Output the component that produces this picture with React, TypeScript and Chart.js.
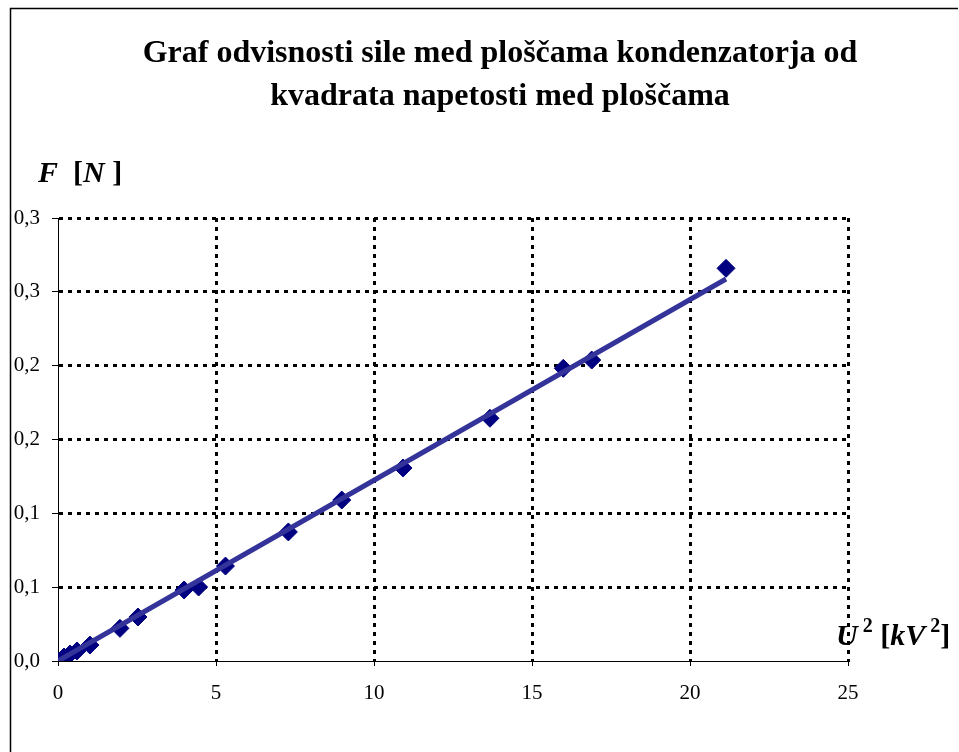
import React, { useEffect, useRef } from "react";
import { Chart, registerables } from "chart.js";

Chart.register(...registerables);

// ---- data ----
const uSquared = [0, 0.19, 0.38, 0.6, 1.01, 1.96, 2.53, 3.99, 4.45, 5.3, 7.29, 8.98, 10.92, 13.67, 15.99, 16.89, 21.14];
const force = [0, 0.0027, 0.0047, 0.0068, 0.0108, 0.0221, 0.0298, 0.0481, 0.0501, 0.0643, 0.0874, 0.109, 0.1307, 0.1644, 0.1982, 0.2038, 0.2659];
const trendX = [0, 21.14];
const trendY = [0, 0.2587];
const xTickLabels = ["0", "5", "10", "15", "20", "25"];
const yTickLabels = ["0,0", "0,1", "0,1", "0,2", "0,2", "0,3", "0,3"];
const titleLines = ["Graf odvisnosti sile med ploščama kondenzatorja od", "kvadrata napetosti med ploščama"];

const SERIF = '"Liberation Serif", "Times New Roman", serif';

type Run = { text: string; size: number; italic?: boolean; dy?: number };

function drawRuns(ctx: CanvasRenderingContext2D, x: number, y: number, runs: Run[]) {
  let cx = x;
  for (const r of runs) {
    ctx.font = `${r.italic ? "italic " : ""}bold ${r.size}px ${SERIF}`;
    ctx.fillText(r.text, cx, y + (r.dy || 0));
    cx += ctx.measureText(r.text).width;
  }
}

const decorPlugin = {
  id: "decor",
  afterDraw(chart: any) {
    const ctx: CanvasRenderingContext2D = chart.ctx;
    ctx.save();
    // frame
    ctx.strokeStyle = "#000";
    ctx.lineWidth = 1.5;
    ctx.beginPath();
    ctx.moveTo(10.5, 752);
    ctx.lineTo(10.5, 8.5);
    ctx.lineTo(958, 8.5);
    ctx.stroke();

    ctx.fillStyle = "#000";
    ctx.textBaseline = "alphabetic";
    // title
    ctx.textAlign = "center";
    ctx.font = `bold 32px ${SERIF}`;
    ctx.fillText(titleLines[0], 500, 62);
    ctx.fillText(titleLines[1], 500, 105);

    // axis titles
    ctx.textAlign = "left";
    drawRuns(ctx, 38, 182, [
      { text: "F", size: 30, italic: true },
      { text: "  [", size: 30 },
      { text: "N", size: 30, italic: true },
      { text: " ]", size: 30 },
    ]);
    drawRuns(ctx, 836, 645, [
      { text: "U", size: 30, italic: true },
      { text: " 2", size: 20, dy: -13 },
      { text: " [", size: 30 },
      { text: "kV", size: 30, italic: true },
      { text: " 2", size: 20, dy: -13 },
      { text: "]", size: 30 },
    ]);
    ctx.restore();
  },
};

export default function App() {
  const ref = useRef<HTMLCanvasElement | null>(null);

  useEffect(() => {
    if (!ref.current) return;
    const gridColor = (c: any) => (c.tick && c.tick.value === 0 ? "rgba(0,0,0,0)" : "#000");
    const chart = new Chart(ref.current, {
      type: "scatter",
      data: {
        datasets: [
          {
            type: "line",
            label: "trend",
            data: trendX.map((x, i) => ({ x, y: trendY[i] })),
            borderColor: "#333399",
            borderWidth: 5,
            pointRadius: 0,
            fill: false,
            order: 0,
          } as any,
          {
            label: "F",
            data: uSquared.map((x, i) => ({ x, y: force[i] })),
            pointStyle: "rectRot",
            pointRadius: 9,
            pointBackgroundColor: "#000080",
            pointBorderColor: "#000080",
            pointBorderWidth: 1,
            showLine: false,
            order: 1,
          },
        ],
      },
      options: {
        animation: false,
        responsive: false,
        devicePixelRatio: 1,
        layout: { padding: { top: 218, right: 111, bottom: 51, left: 0 } },
        plugins: { legend: { display: false }, tooltip: { enabled: false }, title: { display: false } },
        scales: {
          x: {
            type: "linear",
            min: 0,
            max: 25,
            afterFit: (s: any) => {
              s.height = 40;
            },
            ticks: {
              stepSize: 5,
              color: "#000",
              padding: 15,
              font: { family: SERIF, size: 21 },
              callback: (_v: any, i: number) => xTickLabels[i],
            },
            grid: { color: gridColor, lineWidth: 3, tickColor: "#000", tickWidth: 1, tickLength: 5 },
            border: { display: true, color: "#000", width: 1, dash: [4, 5] },
          },
          y: {
            type: "linear",
            min: 0,
            max: 0.3,
            afterFit: (s: any) => {
              s.width = 58;
            },
            ticks: {
              stepSize: 0.05,
              color: "#000",
              padding: 12,
              font: { family: SERIF, size: 21 },
              callback: (_v: any, i: number) => yTickLabels[i],
            },
            grid: { color: gridColor, lineWidth: 3, tickColor: "#000", tickWidth: 1, tickLength: 6 },
            border: { display: true, color: "#000", width: 1, dash: [4, 5] },
          },
        },
      },
      plugins: [decorPlugin],
    } as any);
    return () => chart.destroy();
  }, []);

  return (
    <div style={{ position: "fixed", left: 0, top: 0, width: 959, height: 752, background: "#fff" }}>
      <canvas ref={ref} width={959} height={752} style={{ display: "block", width: 959, height: 752 }} />
    </div>
  );
}
